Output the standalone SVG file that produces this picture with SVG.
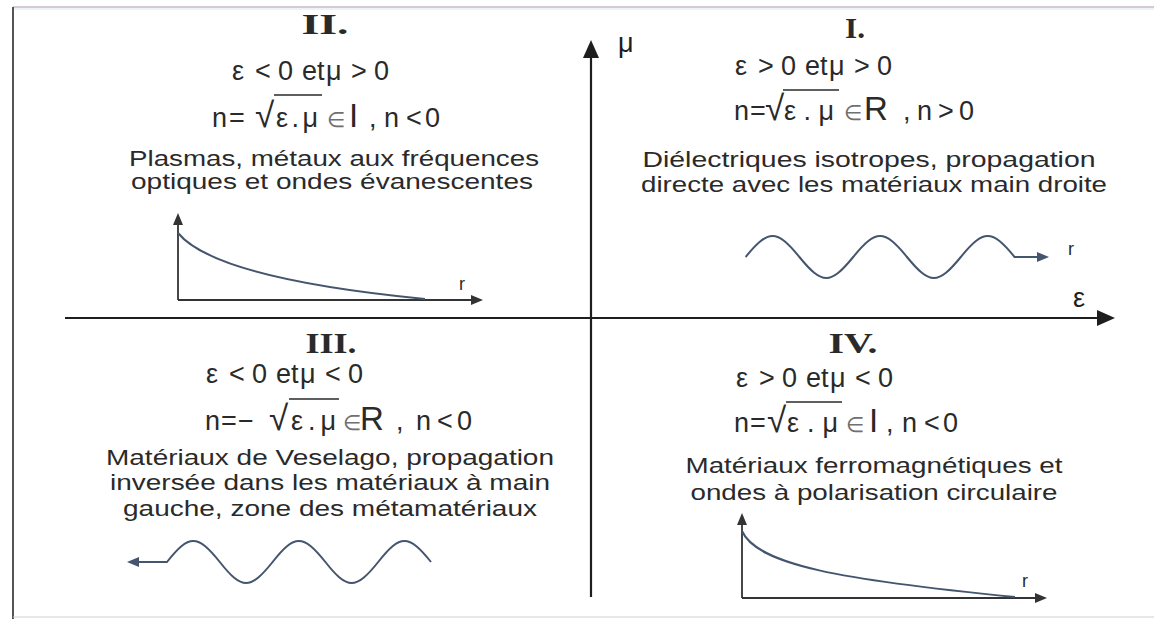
<svg xmlns="http://www.w3.org/2000/svg" width="1154" height="619" viewBox="0 0 1154 619">
<defs>
<style>
.t{font-family:"Liberation Sans",Arial,sans-serif;font-size:22px;fill:#2a2a2a}
.m{font-family:"Liberation Sans",Arial,sans-serif;font-size:27px;fill:#2a2a2a}
.rad{font-size:35px}
.el{font-size:21px;fill:#707070}
.big{font-size:33px}
.rn{font-family:"Liberation Serif","Times New Roman",serif;font-weight:bold;font-size:30px;fill:#2a2a2a}
.ax{stroke:#1e1e1e;stroke-width:2.2;fill:none}
.gax{stroke:#333;stroke-width:1.8;fill:none}
.wave{stroke:#44556e;stroke-width:2;fill:none}
.vin{stroke:#2a2a2a;stroke-width:1.4}
.lbl{font-family:"Liberation Sans",Arial,sans-serif;font-size:27px;fill:#1e1e1e}
.r{font-family:"Liberation Sans",Arial,sans-serif;font-size:18px;fill:#2a2a2a}
</style>
<marker id="big" markerUnits="userSpaceOnUse" viewBox="0 0 18 16" refX="10" refY="8" markerWidth="18" markerHeight="16" orient="auto"><path d="M0,0 L18,8 L0,16 z" fill="#1e1e1e"/></marker>
<marker id="sm" markerUnits="userSpaceOnUse" viewBox="0 0 12 10" refX="7" refY="5" markerWidth="12" markerHeight="10" orient="auto"><path d="M0,0 L12,5 L0,10 z" fill="#333"/></marker>
<marker id="smb" markerUnits="userSpaceOnUse" viewBox="0 0 12 10" refX="7" refY="5" markerWidth="12" markerHeight="10" orient="auto"><path d="M0,0 L12,5 L0,10 z" fill="#44556e"/></marker>
</defs>
<rect width="1154" height="619" fill="#ffffff"/>
<g id="frame">
<line x1="13" y1="7" x2="1154" y2="7" stroke="#d6c8d4" stroke-width="2"/>
<line x1="13" y1="9" x2="1154" y2="9" stroke="#dbe8f0" stroke-width="1"/>
<line x1="13" y1="7" x2="13" y2="619" stroke="#555" stroke-width="2"/>
<line x1="13" y1="617" x2="1154" y2="617" stroke="#cfcfcf" stroke-width="1"/>
</g>
<g id="connectors">
<line class="ax" x1="65" y1="318" x2="1107" y2="318" marker-end="url(#big)"/>
<line class="ax" x1="591" y1="597" x2="591" y2="48" marker-end="url(#big)"/>
<text class="lbl" x="618" y="52">μ</text>
<text class="lbl" x="1073" y="307">ε</text>
</g>
<g id="q2">
<text class="rn" x="325" y="34" text-anchor="middle" textLength="47" lengthAdjust="spacingAndGlyphs">II.</text>
<text class="m" y="80"><tspan x="232">ε</tspan><tspan x="255">&lt;</tspan><tspan x="278">0</tspan><tspan x="302">et</tspan><tspan x="326">μ</tspan><tspan x="351">&gt;</tspan><tspan x="374">0</tspan></text>
<text class="m" y="127"><tspan x="212">n</tspan><tspan x="229">=</tspan><tspan x="255" class="rad">√</tspan><tspan x="276" textLength="42" lengthAdjust="spacing">ε.μ</tspan><tspan x="327" class="el">∈</tspan><tspan x="349" class="big">I</tspan><tspan x="369">,</tspan><tspan x="384">n</tspan><tspan x="406">&lt;</tspan><tspan x="425">0</tspan></text>
<line class="vin" x1="274" y1="95" x2="322" y2="95"/>
<text class="t" x="334" y="166" text-anchor="middle" textLength="410" lengthAdjust="spacingAndGlyphs">Plasmas, métaux aux fréquences</text>
<text class="t" x="332" y="189" text-anchor="middle" textLength="402" lengthAdjust="spacingAndGlyphs">optiques et ondes évanescentes</text>
<line class="gax" x1="178" y1="300" x2="178" y2="218" marker-end="url(#sm)"/>
<line class="gax" x1="178" y1="300" x2="478" y2="300" marker-end="url(#sm)"/>
<path class="wave" d="M178,233 C202,262 282,285 425,299"/>
<text class="r" x="459" y="290">r</text>
</g>
<g id="q1">
<text class="rn" x="855" y="38" text-anchor="middle" textLength="20" lengthAdjust="spacingAndGlyphs">I.</text>
<text class="m" y="75"><tspan x="735">ε</tspan><tspan x="758">&gt;</tspan><tspan x="781">0</tspan><tspan x="805">et</tspan><tspan x="829">μ</tspan><tspan x="854">&gt;</tspan><tspan x="877">0</tspan></text>
<text class="m" y="120"><tspan x="734">n</tspan><tspan x="750">=</tspan><tspan x="765" class="rad">√</tspan><tspan x="784" textLength="50" lengthAdjust="spacing">ε.μ</tspan><tspan x="844" class="el">∈</tspan><tspan x="864" class="big">R</tspan><tspan x="903">,</tspan><tspan x="917">n</tspan><tspan x="938">&gt;</tspan><tspan x="959">0</tspan></text>
<line class="vin" x1="783" y1="90" x2="839" y2="90"/>
<text class="t" x="869" y="167" text-anchor="middle" textLength="453" lengthAdjust="spacingAndGlyphs">Diélectriques isotropes, propagation</text>
<text class="t" x="874" y="192" text-anchor="middle" textLength="466" lengthAdjust="spacingAndGlyphs">directe avec les matériaux main droite</text>
<path class="wave" d="M745.6,257 C768.4,229 776.6,229 799.4,257 C822.2,285 830.4,285 853.2,257 C876,229 884.2,229 907,257 C929.8,285 938,285 960.8,257 C983.6,229 991.8,229 1014.6,257 L1044,257" marker-end="url(#smb)"/>
<text class="r" x="1068" y="255">r</text>
</g>
<g id="q3">
<text class="rn" x="331" y="353" text-anchor="middle" textLength="51" lengthAdjust="spacingAndGlyphs">III.</text>
<text class="m" y="383"><tspan x="206">ε</tspan><tspan x="229">&lt;</tspan><tspan x="252">0</tspan><tspan x="276">et</tspan><tspan x="300">μ</tspan><tspan x="325">&lt;</tspan><tspan x="348">0</tspan></text>
<text class="m" y="430"><tspan x="205">n</tspan><tspan x="221">=</tspan><tspan x="238">−</tspan><tspan x="269" class="rad">√</tspan><tspan x="291" textLength="45" lengthAdjust="spacing">ε.μ</tspan><tspan x="343" class="el">∈</tspan><tspan x="360" class="big">R</tspan><tspan x="396">,</tspan><tspan x="416">n</tspan><tspan x="437">&lt;</tspan><tspan x="457">0</tspan></text>
<line class="vin" x1="289" y1="399" x2="339" y2="399"/>
<text class="t" x="330" y="465" text-anchor="middle" textLength="448" lengthAdjust="spacingAndGlyphs">Matériaux de Veselago, propagation</text>
<text class="t" x="330" y="490" text-anchor="middle" textLength="440" lengthAdjust="spacingAndGlyphs">inversée dans les matériaux à main</text>
<text class="t" x="330" y="516" text-anchor="middle" textLength="414" lengthAdjust="spacingAndGlyphs">gauche, zone des métamatériaux</text>
<path class="wave" d="M431,562 C408.6,534 400.2,534 378.2,562 C355.8,590 347.4,590 325.4,562 C303,534 294.6,534 272.6,562 C250.2,590 241.8,590 219.8,562 C197.4,534 189,534 167,562 L132,562" marker-end="url(#smb)"/>
</g>
<g id="q4">
<text class="rn" x="853" y="353" text-anchor="middle" textLength="49" lengthAdjust="spacingAndGlyphs">IV.</text>
<text class="m" y="387"><tspan x="736">ε</tspan><tspan x="759">&gt;</tspan><tspan x="782">0</tspan><tspan x="806">et</tspan><tspan x="830">μ</tspan><tspan x="855">&lt;</tspan><tspan x="878">0</tspan></text>
<text class="m" y="432"><tspan x="734">n</tspan><tspan x="750">=</tspan><tspan x="767" class="rad">√</tspan><tspan x="787" textLength="51" lengthAdjust="spacing">ε.μ</tspan><tspan x="846" class="el">∈</tspan><tspan x="869" class="big">I</tspan><tspan x="886">,</tspan><tspan x="902">n</tspan><tspan x="924">&lt;</tspan><tspan x="943">0</tspan></text>
<line class="vin" x1="786" y1="402" x2="842" y2="402"/>
<text class="t" x="874" y="473" text-anchor="middle" textLength="377" lengthAdjust="spacingAndGlyphs">Matériaux ferromagnétiques et</text>
<text class="t" x="874" y="500" text-anchor="middle" textLength="367" lengthAdjust="spacingAndGlyphs">ondes à polarisation circulaire</text>
<line class="gax" x1="742" y1="598" x2="742" y2="518" marker-end="url(#sm)"/>
<line class="gax" x1="742" y1="598" x2="1042" y2="598" marker-end="url(#sm)"/>
<path class="wave" d="M742,531 C757,565 842,580 1015,597"/>
<text class="r" x="1022" y="587">r</text>
</g>
</svg>
